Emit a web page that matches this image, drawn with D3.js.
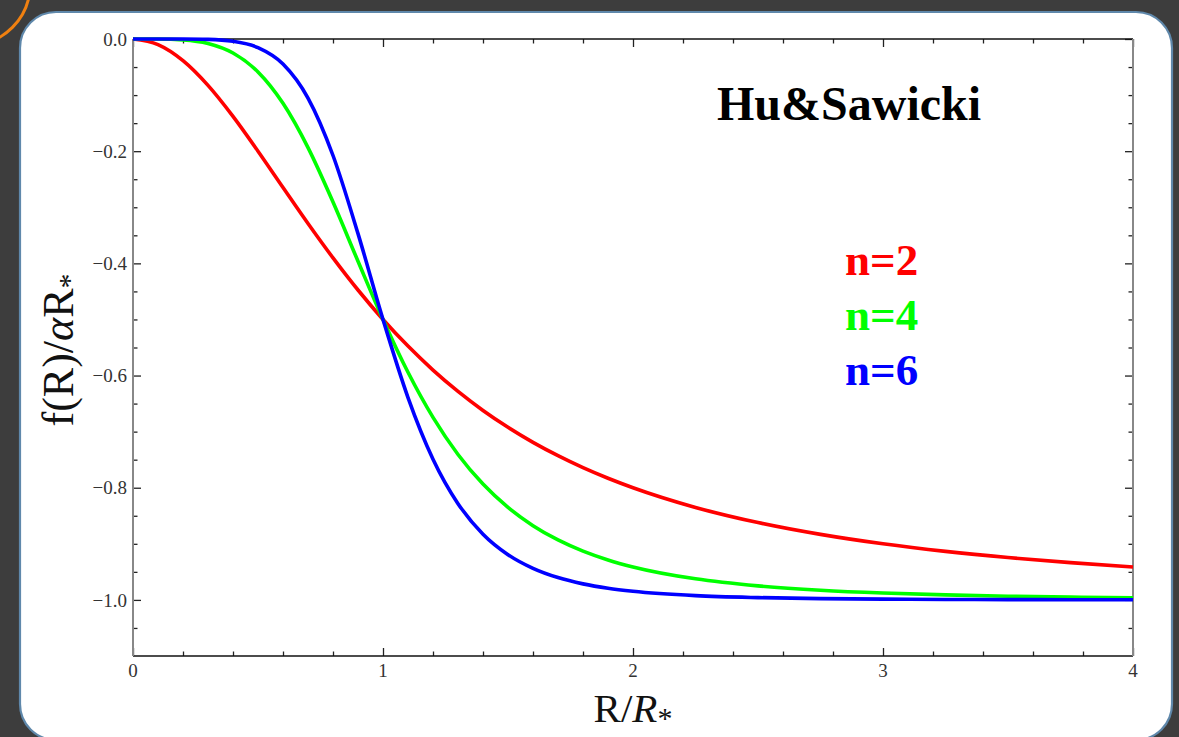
<!DOCTYPE html>
<html>
<head>
<meta charset="utf-8">
<script src="https://cdn.jsdelivr.net/npm/d3@7"></script>
<style>
  html, body { margin: 0; padding: 0; background: #3d3d3d; }
  svg { display: block; }
</style>
</head>
<body>
<svg id="chart" width="1179" height="737"></svg>
<script>
// Sample points R/R* and f(R)/(alpha R*) for the Hu & Sawicki model
const xs = [0, 0.1, 0.2, 0.3, 0.4, 0.5, 0.6, 0.7, 0.8, 0.9, 1.0,
            1.1, 1.2, 1.3, 1.4, 1.5, 1.6, 1.7, 1.8, 1.9, 2.0,
            2.25, 2.5, 2.75, 3.0, 3.25, 3.5, 3.75, 4.0];
const n2 = [0, -0.0099, -0.0385, -0.0826, -0.1379, -0.2000, -0.2647, -0.3289, -0.3902, -0.4475, -0.5000,
            -0.5475, -0.5902, -0.6283, -0.6622, -0.6923, -0.7191, -0.7429, -0.7642, -0.7831, -0.8000,
            -0.8351, -0.8621, -0.8832, -0.9000, -0.9135, -0.9245, -0.9336, -0.9412];
const n4 = [0, -0.0001, -0.0016, -0.0080, -0.0250, -0.0588, -0.1147, -0.1936, -0.2906, -0.3962, -0.5000,
            -0.5942, -0.6746, -0.7407, -0.7935, -0.8351, -0.8676, -0.8931, -0.9130, -0.9287, -0.9412,
            -0.9624, -0.9750, -0.9828, -0.9878, -0.9911, -0.9934, -0.9950, -0.9961];
const n6 = [0, 0, -0.0001, -0.0007, -0.0041, -0.0154, -0.0446, -0.1053, -0.2077, -0.3470, -0.5000,
            -0.6392, -0.7491, -0.8284, -0.8828, -0.9193, -0.9437, -0.9602, -0.9714, -0.9792, -0.9846,
            -0.9924, -0.9959, -0.9977, -0.9986, -0.9992, -0.9995, -0.9996, -0.9998];

const seriesNames = ["n=2", "n=4", "n=6"];
const seriesColors = ["#ff0000", "#00ff00", "#0000ff"];

const xMajor = [0, 1, 2, 3, 4];
const xMinor = [0.2, 0.4, 0.6, 0.8, 1.2, 1.4, 1.6, 1.8, 2.2, 2.4, 2.6, 2.8, 3.2, 3.4, 3.6, 3.8];
const yMajor = [0, -0.2, -0.4, -0.6, -0.8, -1.0];
const yMinor = [-0.05, -0.1, -0.15, -0.25, -0.3, -0.35, -0.45, -0.5, -0.55, -0.65, -0.7, -0.75,
                -0.85, -0.9, -0.95, -1.05];

const svg = d3.select("#chart");
const W = 1179, H = 737;
const serif = "'Liberation Serif', 'Times New Roman', serif";

// Slide background and rounded white panel
svg.append("rect").attr("width", W).attr("height", H).attr("fill", "#3d3d3d");
svg.append("circle").attr("cx", -30).attr("cy", -15).attr("r", 60)
  .attr("fill", "none").attr("stroke", "#f08010").attr("stroke-width", 3);
svg.append("rect").attr("x", 20).attr("y", 12).attr("width", 1152).attr("height", 728)
  .attr("rx", 36).attr("ry", 36)
  .attr("fill", "#ffffff").attr("stroke", "#5f88ab").attr("stroke-width", 2.2);

const mLeft = 133, mRight = 1133, mTop = 39, mBottom = 656;
const x = d3.scaleLinear().domain([0, 4]).range([mLeft, mRight]);
const y = d3.scaleLinear().domain([-1.1, 0]).range([mBottom, mTop]);

const g = svg.append("g");

// Tick marks pointing inward on all four sides
function tickAxis(axis, scale, vals, len) {
  return axis(scale).tickValues(vals).tickSize(len).tickSizeOuter(0).tickFormat("");
}
g.append("g").attr("transform", `translate(0,${mBottom})`).call(tickAxis(d3.axisTop, x, xMajor, 8));
g.append("g").attr("transform", `translate(0,${mBottom})`).call(tickAxis(d3.axisTop, x, xMinor, 4.5));
g.append("g").attr("transform", `translate(0,${mTop})`).call(tickAxis(d3.axisBottom, x, xMajor, 8));
g.append("g").attr("transform", `translate(0,${mTop})`).call(tickAxis(d3.axisBottom, x, xMinor, 4.5));
g.append("g").attr("transform", `translate(${mLeft},0)`).call(tickAxis(d3.axisRight, y, yMajor, 8));
g.append("g").attr("transform", `translate(${mLeft},0)`).call(tickAxis(d3.axisRight, y, yMinor, 4.5));
g.append("g").attr("transform", `translate(${mRight},0)`).call(tickAxis(d3.axisLeft, y, yMajor, 8));
g.append("g").attr("transform", `translate(${mRight},0)`).call(tickAxis(d3.axisLeft, y, yMinor, 4.5));
g.selectAll(".domain").remove();
g.selectAll(".tick line").attr("stroke", "#222").attr("stroke-width", 1.3);

// Frame
g.append("line").attr("x1", mLeft).attr("x2", mRight).attr("y1", mBottom).attr("y2", mBottom)
  .attr("stroke", "#111").attr("stroke-width", 1.6);
g.append("line").attr("x1", mLeft).attr("x2", mRight).attr("y1", mTop).attr("y2", mTop)
  .attr("stroke", "#111").attr("stroke-width", 1.6);
g.append("line").attr("x1", mLeft).attr("x2", mLeft).attr("y1", mTop).attr("y2", mBottom)
  .attr("stroke", "#888").attr("stroke-width", 2);
g.append("line").attr("x1", mRight).attr("x2", mRight).attr("y1", mTop).attr("y2", mBottom)
  .attr("stroke", "#888").attr("stroke-width", 2);

// Tick labels
const fmtY = v => (v === 0 ? "0.0" : "\u2212" + Math.abs(v).toFixed(1));
g.selectAll(".ylab").data(yMajor).enter().append("text")
  .attr("x", mLeft - 6).attr("y", d => y(d)).attr("dy", "0.35em")
  .attr("text-anchor", "end").attr("font-family", serif).attr("font-size", 19)
  .attr("fill", "#333").text(fmtY);
g.selectAll(".xlab").data(xMajor).enter().append("text")
  .attr("x", d => x(d)).attr("y", mBottom + 21)
  .attr("text-anchor", "middle").attr("font-family", serif).attr("font-size", 19)
  .attr("fill", "#333").text(d => d);

// Curves
const curveData = [n2, n4, n6];
const line = d3.line().x(d => x(d[0])).y(d => y(d[1])).curve(d3.curveMonotoneX);
curveData.forEach((vals, i) => {
  g.append("path").datum(xs.map((xv, j) => [xv, vals[j]]))
    .attr("d", line).attr("fill", "none")
    .attr("stroke", seriesColors[i]).attr("stroke-width", 3.6)
    .attr("stroke-linejoin", "round");
});

// Title and legend labels
svg.append("text").attr("x", 717).attr("y", 120)
  .attr("font-family", serif).attr("font-weight", "bold").attr("font-size", 48)
  .attr("fill", "#000").text("Hu&Sawicki");
const legendY = [275, 330, 385];
seriesNames.forEach((s, i) => {
  svg.append("text").attr("x", 845).attr("y", legendY[i])
    .attr("font-family", serif).attr("font-weight", "bold").attr("font-size", 45)
    .attr("fill", seriesColors[i]).text(s);
});

// Axis titles
const yt = svg.append("text")
  .attr("transform", "translate(73,350) rotate(-90)")
  .attr("text-anchor", "middle").attr("font-family", serif).attr("font-size", 44)
  .attr("fill", "#111");
yt.append("tspan").text("f(R)/");
yt.append("tspan").attr("font-style", "italic").text("\u03b1");
yt.append("tspan").text("R");
yt.append("tspan").attr("font-size", 30).attr("dy", 6).text("*");

const xt = svg.append("text")
  .attr("x", 633).attr("y", 722)
  .attr("text-anchor", "middle").attr("font-family", serif).attr("font-size", 41)
  .attr("fill", "#111");
xt.append("tspan").text("R/");
xt.append("tspan").attr("font-style", "italic").text("R");
xt.append("tspan").attr("font-size", 30).attr("dy", 6).text("*");
</script>
</body>
</html>
